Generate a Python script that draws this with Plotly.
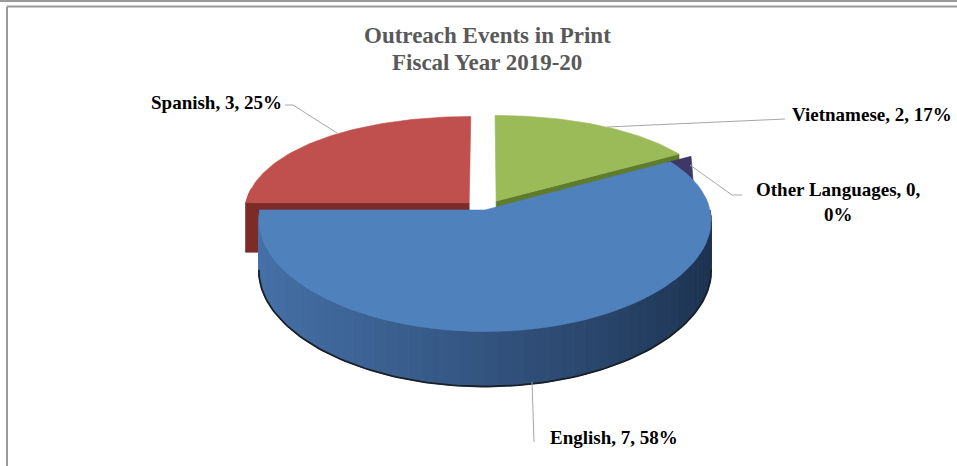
import numpy as np
import plotly.graph_objects as go

# ---- data ----
categories = ["English", "Spanish", "Vietnamese", "Other Languages"]
counts = [7, 3, 2, 0]
title_lines = ["Outreach Events in Print", "Fiscal Year 2019-20"]

# ---- styling ----
top_colors = ["#4f81bd", "#c0504d", "#9bbb59", "#3d3866"]
wall_colors = ["#2e4f7a", "#7d2b29", "#5f7b2c", "#3a335e"]
pull = [0.0, 0.10, 0.10, 0.12]
first_slice_angle = 60.0  # degrees, clockwise from 12 o'clock

W, H = 957, 466
CX, CY = 485.0, 210.0       # pie centre (pixels)
RX, RY, K = 225.0, 105.0, 16.5  # ellipse radii + perspective bend
T0, T1 = 50.0, 5.0          # wall thickness (front a bit thicker)
PX = 0.10                   # horizontal perspective factor

total = sum(counts)
shares = [c / total for c in counts]
pcts = [round(100 * s) for s in shares]

starts, ends = [], []
a = first_slice_angle
for s in shares:
    starts.append(a)
    a += 360.0 * s
    ends.append(a)


def offset(i):
    mid = np.radians((starts[i] + ends[i]) / 2)
    return pull[i] * np.sin(mid), -pull[i] * np.cos(mid)


def proj(theta, r, z, off=(0.0, 0.0)):
    t = np.radians(theta)
    u = r * np.sin(t) + off[0]
    v = -r * np.cos(t) + off[1]
    s = 1 + PX * v
    x = CX + RX * u * s
    y = CY + RY * v + K * v * v + z * (T0 + T1 * v)
    return x, y


def arc(a0, a1, r, z, off, n=80):
    th = np.linspace(a0, a1, n)
    xs, ys = proj(th, r, z, off)
    return list(xs), list(ys)


fig = go.Figure()


def poly(xs, ys, color, lw=0.6):
    fig.add_trace(go.Scatter(
        x=list(xs) + [xs[0]], y=list(ys) + [ys[0]], mode="lines",
        fill="toself", fillcolor=color, line=dict(color=color, width=lw),
        hoverinfo="skip", showlegend=False))


def radial_wall(i, theta):
    off = offset(i)
    p = [proj(theta, 0, 0, off), proj(theta, 1, 0, off),
         proj(theta, 1, 1, off), proj(theta, 0, 1, off)]
    poly([q[0] for q in p], [q[1] for q in p], wall_colors[i])


def top_face(i):
    off = offset(i)
    vx, vy = proj(0, 0, 0, off)
    ax, ay = arc(starts[i], ends[i], 1, 0, off)
    poly([vx] + ax, [vy] + ay, top_colors[i])


# Spanish (back-left) and Vietnamese (back-right): cut faces then tops
radial_wall(1, starts[1])
sx, sy = arc(starts[1], starts[1] + 8, 1, 0, offset(1), 10)
bx, by = arc(starts[1], starts[1] + 8, 1, 1, offset(1), 10)
poly(sx + bx[::-1], sy + by[::-1], wall_colors[1])
radial_wall(2, ends[2])
top_face(1)
top_face(2)

# zero-value slice shows as a thin sliver at its position
off3 = offset(3)
p = [proj(starts[3], 0.86, 0, off3), proj(starts[3], 1.0, 0, off3),
     proj(starts[3] + 1, 1.0, 0.5, off3), proj(starts[3], 0.86, 0.5, off3)]
poly([q[0] for q in p], [q[1] for q in p], top_colors[3])

# English outer wall with left-to-right shading
light = np.array([0x46, 0x72, 0xa9])
dark = np.array([0x1d, 0x32, 0x50])
off0 = offset(0)
edges = np.linspace(90, 270, 61)
for a0, a1 in zip(edges[:-1], edges[1:]):
    tx, ty = arc(a0, a1, 1, 0, off0, 4)
    bx, by = arc(a0, a1, 1, 1, off0, 4)
    u = np.sin(np.radians((a0 + a1) / 2))
    f = ((1 - u) / 2) ** 0.9
    c = dark + (light - dark) * f
    col = "rgb(%d,%d,%d)" % tuple(c.astype(int))
    poly(tx + bx[::-1], ty + by[::-1], col, lw=1.0)
# dark rim under the base
rx_, ry_ = arc(95, 265, 1, 1, off0, 120)
fig.add_trace(go.Scatter(x=rx_, y=ry_, mode="lines",
                         line=dict(color="#1a1f28", width=1.8),
                         hoverinfo="skip", showlegend=False))
top_face(0)

# ---- leader lines ----
leaders = [
    ([532, 534], [382, 442]),
    ([285, 293, 337], [105, 105, 133]),
    ([785, 607], [119, 127]),
    ([690, 732, 742], [165, 195, 195]),
]
for lx, ly in leaders:
    fig.add_trace(go.Scatter(x=lx, y=ly, mode="lines",
                             line=dict(color="#a6a6a6", width=1),
                             hoverinfo="skip", showlegend=False))

font_lbl = dict(family="Liberation Serif", size=19, color="#000000")
labels = [f"<b>{c}, {n}, {p}%</b>" for c, n, p in zip(categories, counts, pcts)]
ann = [
    dict(x=548, y=437, text=labels[0], xanchor="left", yanchor="middle"),
    dict(x=284, y=102, text=labels[1], xanchor="right", yanchor="middle"),
    dict(x=954, y=114, text=labels[2], xanchor="right", yanchor="middle"),
    dict(x=838, y=202,
         text=f"<b>{categories[3]}, {counts[3]},<br>{pcts[3]}%</b>",
         xanchor="center", yanchor="middle", align="center"),
]
for a_ in ann:
    fig.add_annotation(xref="x", yref="y", showarrow=False, font=font_lbl, **a_)

font_title = dict(family="Liberation Serif", size=23, color="#595959")
for txt, ty in zip(title_lines, [35, 62]):
    fig.add_annotation(xref="x", yref="y", x=487, y=ty, text=f"<b>{txt}</b>",
                       showarrow=False, font=font_title,
                       xanchor="center", yanchor="middle")

# ---- frame lines ----
frame = "#9a9a9a"
shapes = [
    dict(type="line", x0=0, x1=W, y0=1, y1=1),
    dict(type="line", x0=1, x1=1, y0=0, y1=2),
    dict(type="line", x0=7, x1=W, y0=6.5, y1=6.5),
    dict(type="line", x0=7, x1=7, y0=6.5, y1=H),
]
for s in shapes:
    s.update(xref="x", yref="y", line=dict(color=frame, width=2), layer="above")

fig.update_layout(
    width=W, height=H, margin=dict(l=0, r=0, t=0, b=0),
    paper_bgcolor="white", plot_bgcolor="white",
    xaxis=dict(range=[0, W], visible=False, fixedrange=True),
    yaxis=dict(range=[H, 0], visible=False, fixedrange=True),
    shapes=shapes, showlegend=False,
)
fig.write_html("out.html")
